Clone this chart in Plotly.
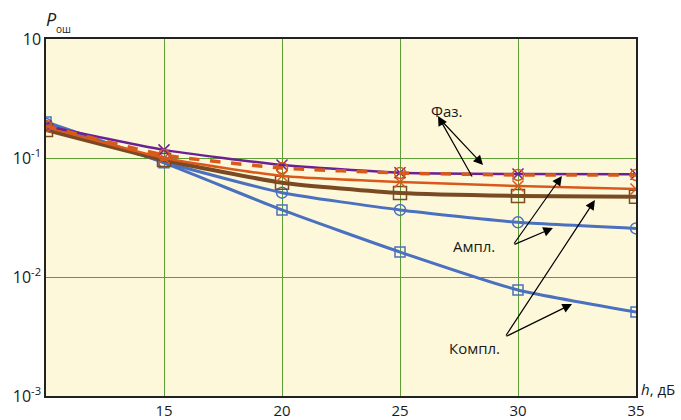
import plotly.graph_objects as go

# Signal-to-noise ratio h, dB
h_db = [10, 15, 20, 25, 30, 35]

# Error probability curves
p_phase_purple = [0.186, 0.117, 0.0873, 0.0752, 0.0734, 0.0730]
p_phase_dash = [0.186, 0.106, 0.0824, 0.0748, 0.0720, 0.0720]
p_amp_orange = [0.182, 0.100, 0.0706, 0.0629, 0.0582, 0.0549]
p_brown = [0.172, 0.0962, 0.0620, 0.0508, 0.0480, 0.0473]
p_blue_circ = [0.193, 0.0925, 0.0511, 0.0366, 0.0288, 0.0256]
p_blue_sq = [0.2007, 0.0910, 0.0366, 0.0162, 0.00778, 0.00508]

x_ticks = [15, 20, 25, 30, 35]
y_ticks = [1e-3, 1e-2, 1e-1, 1]
y_tick_text = ["10<sup>-3</sup>", "10<sup>-2</sup>", "10<sup>-1</sup>", "10"]

BLUE = "#4a70bf"
BROWN = "#7a4a22"
ORANGE = "#d9581c"
PURPLE = "#6a2293"
GRID = "#5c9e35"
BG = "#fdf8da"
FONT = "Open Sans"

fig = go.Figure()


def add_curve(y, color, width, symbol, msize, dash="solid"):
    fig.add_trace(go.Scatter(
        x=h_db, y=y, mode="lines+markers",
        line=dict(color=color, width=width, dash=dash, shape="spline", smoothing=0.5),
        marker=dict(symbol=symbol, size=msize, color=color,
                    line=dict(color=color, width=1.5)),
        showlegend=False, hoverinfo="x+y",
    ))


add_curve(p_blue_sq, BLUE, 3, "square-open", 10)
add_curve(p_blue_circ, BLUE, 3, "circle-open", 11)
add_curve(p_brown, BROWN, 4, "square-open", 13)
add_curve(p_amp_orange, ORANGE, 2.5, "x-thin-open", 11)
add_curve(p_phase_purple, PURPLE, 2.5, "x-thin-open", 11)
add_curve(p_phase_dash, ORANGE, 3.5, "circle-open", 11, dash="dash")

# Callout labels with pointer arrows (x in dB, y in log10 units)
labels = [
    ("Фаз.", 26.95, -0.605),
    ("Ампл.", 28.14, -1.739),
    ("Компл.", 28.14, -2.597),
]
arrows = [
    # (head x, head log y, tail x, tail log y)
    (28.52, -1.059, 26.65, -0.664),
    (26.61, -0.647, 28.09, -1.168),
    (31.48, -1.588, 29.79, -1.731),
    (31.86, -1.151, 29.79, -1.731),
    (32.29, -2.227, 29.45, -2.504),
    (33.26, -1.353, 29.45, -2.504),
]

for text, lx, ly in labels:
    fig.add_annotation(x=lx, y=ly, text=text, showarrow=False,
                       font=dict(family=FONT, size=15, color="#1a1a1a"))

for hx, hy, tx, ty in arrows:
    fig.add_annotation(x=hx, y=hy, ax=tx, ay=ty, xref="x", yref="y",
                       axref="x", ayref="y", text="", showarrow=True,
                       arrowhead=2, arrowsize=1.6, arrowwidth=1.2,
                       arrowcolor="black", standoff=0, startstandoff=0)

# Axis titles (placed in pixels, converted to paper fractions below)
fig.add_annotation(x=44, y=19, xref="paper", yref="paper", text="<i>P</i>",
                   showarrow=False, xanchor="left", yanchor="middle",
                   font=dict(family=FONT, size=18, color="#1a1a1a"))
fig.add_annotation(x=54, y=29, xref="paper", yref="paper", text="ош",
                   showarrow=False, xanchor="left", yanchor="middle",
                   font=dict(family=FONT, size=10, color="#1a1a1a"))
fig.add_annotation(x=639, y=389, xref="paper", yref="paper", text="<i>h</i>, дБ",
                   showarrow=False, xanchor="left", yanchor="middle",
                   font=dict(family=FONT, size=15, color="#1a1a1a"))

W, H = 681, 420
ML, MR, MT, MB = 46, 45, 39, 24
pw, ph = W - ML - MR, H - MT - MB
for ann in fig.layout.annotations:
    if ann.xref == "paper":
        ann.x = (ann.x - ML) / pw
        ann.y = 1 - (ann.y - MT) / ph

fig.update_layout(
    width=W, height=H,
    margin=dict(l=ML, r=MR, t=MT, b=MB, autoexpand=False),
    paper_bgcolor="white", plot_bgcolor=BG,
    font=dict(family=FONT, size=16, color="#1a1a1a"),
    xaxis=dict(range=[10, 35], tickvals=x_ticks, showgrid=True,
               gridcolor=GRID, gridwidth=1.3, zeroline=False,
               showline=True, linecolor="#222", linewidth=1.5, mirror=True,
               ticks="", ticklen=0, automargin=False,
               tickfont=dict(size=15)),
    yaxis=dict(type="log", range=[-3, 0], tickvals=y_ticks, ticktext=y_tick_text,
               showgrid=True, gridcolor=GRID, gridwidth=1.3, zeroline=False,
               showline=True, linecolor="#222", linewidth=1.5, mirror=True,
               ticks="", ticklen=0, automargin=False),
)

fig.write_html("out.html")
